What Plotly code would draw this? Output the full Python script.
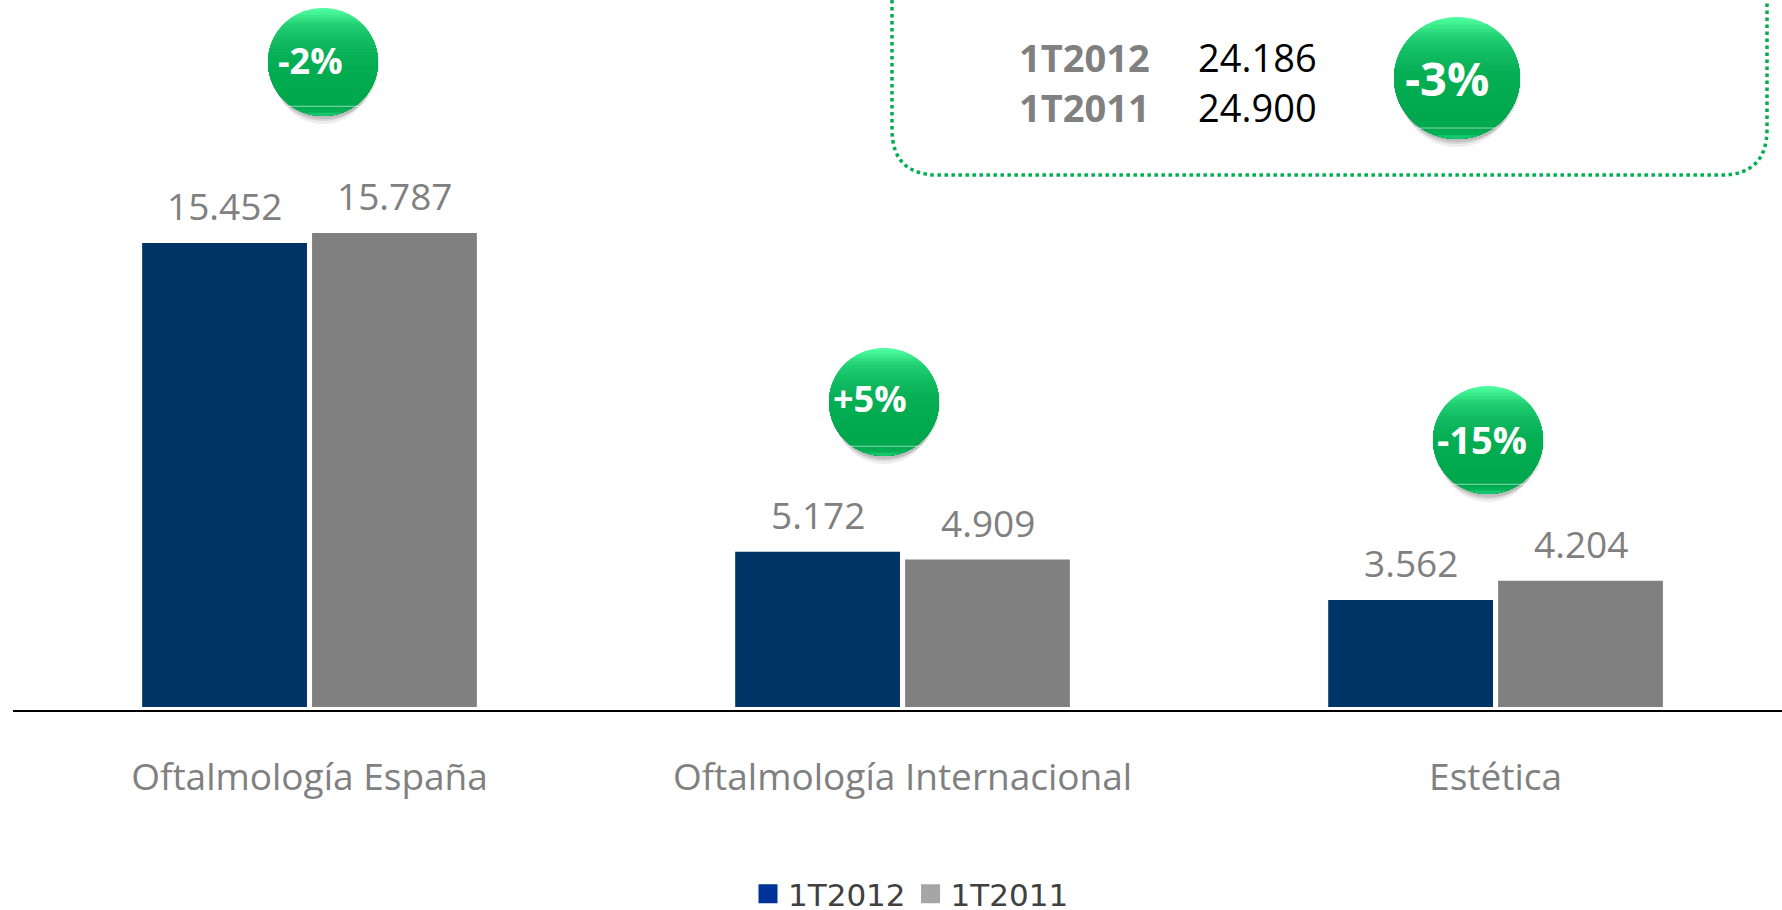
import math
import plotly.graph_objects as go

categories = ["Oftalmología España", "Oftalmología Internacional", "Estética"]
series_2012 = [15452, 5172, 3562]
series_2011 = [15787, 4909, 4204]
labels_2012 = ["15.452", "5.172", "3.562"]
labels_2011 = ["15.787", "4.909", "4.204"]
summary_periods = ["1T2012", "1T2011"]
summary_values = ["24.186", "24.900"]
bubble_texts = ["-2%", "+5%", "-15%", "-3%"]

W, H = 1782, 910
L, PLOT_W = 13, 1769
PLOT_H = 710

def px(x):
    return (x - L) / PLOT_W

def py(y):
    return (PLOT_H - y) / PLOT_H

fig = go.Figure()
fig.add_bar(x=categories, y=series_2012, name="1T2012", showlegend=False,
            marker=dict(color="#003366", line=dict(width=0)))
fig.add_bar(x=categories, y=series_2011, name="1T2011", showlegend=False,
            marker=dict(color="#808080", line=dict(width=0)))
for name, col in [("1T2012", "#003399"), ("1T2011", "#A6A6A6")]:
    fig.add_scatter(x=[None], y=[None], mode="markers", name=name,
                    marker=dict(symbol="square", size=16, color=col,
                                line=dict(color=col, width=3)))

shapes = []
annotations = []

def ellipse(cx, cy, rx, ry, color, opacity=1.0):
    shapes.append(dict(type="circle", xref="paper", yref="paper", layer="above",
                       x0=px(cx - rx), x1=px(cx + rx), y0=py(cy + ry), y1=py(cy - ry),
                       fillcolor=color, opacity=opacity, line=dict(width=0)))

STOPS = [(0.0, (76, 251, 158)), (0.05, (62, 238, 142)), (0.14, (34, 208, 116)),
         (0.28, (18, 188, 98)), (0.45, (6, 174, 84)), (0.80, (0, 168, 77)),
         (0.93, (0, 170, 80)), (0.97, (24, 200, 110)), (1.0, (50, 220, 130))]

def grad(t):
    for (a, ca), (b, cb) in zip(STOPS, STOPS[1:]):
        if t <= b:
            f = (t - a) / (b - a)
            c = [round(u + (v - u) * f) for u, v in zip(ca, cb)]
            return f"rgb({c[0]},{c[1]},{c[2]})"
    return "rgb(50,220,130)"

def segment(cx, cy, rx, ry, t, color):
    # part of the ellipse below the level t (0 = top, 1 = bottom)
    a0 = math.asin(max(-1.0, min(1.0, 2 * t - 1)))
    n = 40
    pts = []
    for i in range(n + 1):
        a = a0 + (math.pi - 2 * a0) * i / n
        pts.append((cx + rx * math.cos(a), cy + ry * math.sin(a)))
    d = "M " + " L ".join(f"{px(x):.6f},{py(y):.6f}" for x, y in pts) + " Z"
    shapes.append(dict(type="path", xref="paper", yref="paper", layer="above", path=d,
                       fillcolor=color, line=dict(width=0)))

def bubble(cx, cy, rx, ry):
    ellipse(cx, cy + 9, rx - 5, ry - 1, "#000000", 0.07)
    ellipse(cx, cy + 6, rx - 3, ry - 1, "#000000", 0.10)
    ellipse(cx + 1, cy + 3, rx, ry, "#000000", 0.10)
    ellipse(cx, cy, rx, ry, grad(0))
    for i in range(1, 32):
        t = i / 32
        segment(cx, cy, rx, ry, t, grad(t))
    shapes.append(dict(type="line", xref="paper", yref="paper", layer="above",
                       x0=px(cx - rx * 0.75), x1=px(cx + rx * 0.75),
                       y0=py(cy + ry * 0.82), y1=py(cy + ry * 0.82),
                       line=dict(color="rgba(255,255,255,0.55)", width=1)))

bubble_geom = [(323, 62, 55, 54), (884, 402, 55, 54), (1488, 440, 55, 54), (1457, 78, 63, 61)]
bubble_text_pos = [(310, 60, 36), (870, 399, 36), (1482, 439, 38), (1447, 78, 47)]
for g in bubble_geom:
    bubble(*g)

x0, x1, y1, r = 892, 1767, 175, 46
path = (f"M {px(x0)},{py(0)} L {px(x0)},{py(y1 - r)} "
        f"Q {px(x0)},{py(y1)} {px(x0 + r)},{py(y1)} "
        f"L {px(x1 - r)},{py(y1)} Q {px(x1)},{py(y1)} {px(x1)},{py(y1 - r)} L {px(x1)},{py(0)}")
shapes.append(dict(type="path", xref="paper", yref="paper", layer="below", path=path,
                   line=dict(color="#00B050", width=3.5, dash="dot")))

for labels, values, shift in [(labels_2012, series_2012, -85), (labels_2011, series_2011, 85)]:
    for c, lab, v in zip(categories, labels, values):
        annotations.append(dict(text=lab, x=c, y=v, xref="x", yref="y", xshift=shift, yshift=10,
                                showarrow=False, xanchor="center", yanchor="bottom",
                                font=dict(family="Open Sans", size=37, color="#808080")))
for t, (x, y, s) in zip(bubble_texts, bubble_text_pos):
    annotations.append(dict(text=f"<b>{t}</b>", x=px(x), y=py(y), xref="paper", yref="paper",
                            showarrow=False, xanchor="center", yanchor="middle",
                            font=dict(family="Open Sans", size=s, color="#FFFFFF")))
for t, v, y in zip(summary_periods, summary_values, [57, 107]):
    annotations.append(dict(text=f"<b>{t}</b>", x=px(1084), y=py(y), xref="paper", yref="paper",
                            showarrow=False, xanchor="center", yanchor="middle",
                            font=dict(family="Open Sans", size=38, color="#808080")))
    annotations.append(dict(text=v, x=px(1257), y=py(y), xref="paper", yref="paper",
                            showarrow=False, xanchor="center", yanchor="middle",
                            font=dict(family="Open Sans", size=38, color="#000000")))

fig.update_layout(
    width=W, height=H, autosize=False,
    margin=dict(l=L, r=W - L - PLOT_W, t=0, b=H - PLOT_H, pad=0),
    paper_bgcolor="#FFFFFF", plot_bgcolor="#FFFFFF",
    barmode="group", bargap=0.427, bargroupgap=0.03,
    shapes=shapes, annotations=annotations,
    showlegend=True,
    legend=dict(orientation="h", xref="container", yref="container",
                x=748 / W, xanchor="left", y=1 - 894 / H, yanchor="middle",
                font=dict(family="DejaVu Sans", size=31, color="#404040"),
                bgcolor="rgba(0,0,0,0)", itemclick=False, itemdoubleclick=False),
    xaxis=dict(range=[-0.5, 2.483], showline=True, linecolor="#000000", linewidth=1.5,
               showgrid=False, ticks="", ticklabelstandoff=34,
               tickfont=dict(family="Open Sans", size=37, color="#808080")),
    yaxis=dict(range=[-100, 23543], visible=False, showgrid=False, zeroline=False),
)
fig.write_html("out.html", config=dict(displayModeBar=False),
               post_script="document.body.style.margin='0';document.body.style.overflow='hidden';")
